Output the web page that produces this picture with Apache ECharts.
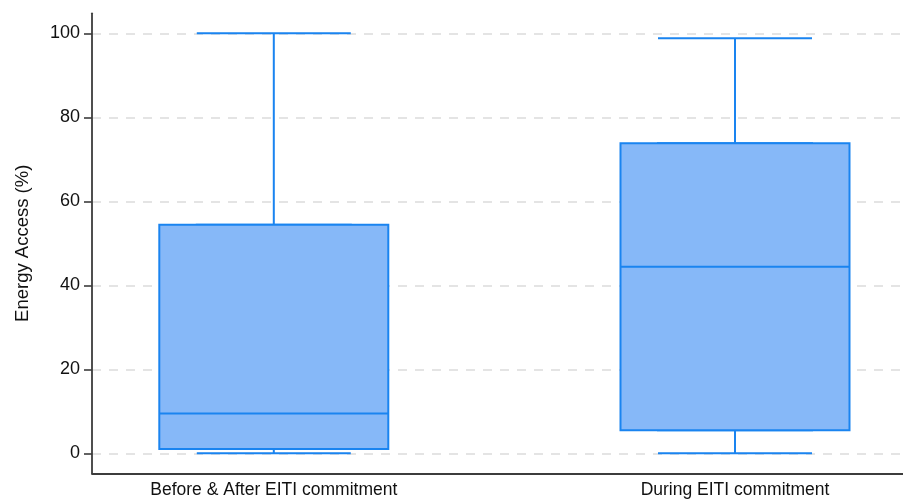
<!DOCTYPE html>
<html>
<head>
<meta charset="utf-8">
<script src="https://cdn.jsdelivr.net/npm/echarts@6/dist/echarts.min.js"></script>
<style>
html,body{margin:0;padding:0;background:#fff;}
#chart{width:903px;height:499px;}
</style>
</head>
<body>
<div id="chart"></div>
<script>
const categories = ['Before & After EITI commitment', 'During EITI commitment'];
const whiskerLow = [0, 0];
const q1 = [1.0, 5.5];
const median = [9.5, 44.4];
const q3 = [54.4, 73.8];
const whiskerHigh = [100, 98.8];
const yTickLabels = [0, 20, 40, 60, 80, 100];

const fullData = categories.map((c, i) => [whiskerLow[i], q1[i], median[i], q3[i], whiskerHigh[i]]);
const boxData = categories.map((c, i) => [q1[i], q1[i], median[i], q3[i], q3[i]]);

const FONT = 'Liberation Sans, Arial, Helvetica, sans-serif';
const BLUE = '#1a84f0';
const FILL = '#86b8f8';
const TXT = '#111111';

const chart = echarts.init(document.getElementById('chart'));
chart.setOption({
  backgroundColor: '#ffffff',
  animation: false,
  grid: [
    {left: 43.2, width: 922.4, top: 33.3, bottom: 45.7, outerBoundsMode: 'none', containLabel: false},
    {left: 92, right: 0, top: 33.3, bottom: 45.7, outerBoundsMode: 'none', containLabel: false},
    {left: 92, right: 0, top: 13.3, bottom: 25.7, outerBoundsMode: 'none', containLabel: false}
  ],
  xAxis: [
    {gridIndex: 0, type: 'category', data: categories, boundaryGap: true,
     axisLine: {show: false}, axisTick: {show: false}, splitLine: {show: false},
     axisLabel: {margin: 28, color: TXT, fontSize: 17.5, fontFamily: FONT, interval: 0}},
    {gridIndex: 1, type: 'value', show: false},
    {gridIndex: 2, type: 'value', min: 0, max: 1,
     axisLine: {show: true, lineStyle: {color: '#3c3c3c', width: 1.8}},
     axisTick: {show: false}, axisLabel: {show: false}, splitLine: {show: false}},
    {gridIndex: 0, type: 'category', data: categories, boundaryGap: true, show: false}
  ],
  yAxis: [
    {gridIndex: 0, type: 'value', min: 0, max: 100, show: false},
    {gridIndex: 1, type: 'value', min: yTickLabels[0], max: yTickLabels[yTickLabels.length - 1], interval: 20,
     name: 'Energy Access (%)', nameLocation: 'middle', nameGap: 60,
     nameTextStyle: {color: TXT, fontSize: 18.5, fontFamily: FONT},
     axisLine: {show: false},
     axisTick: {show: true, length: 8, lineStyle: {color: '#3c3c3c', width: 1.6}},
     axisLabel: {margin: 12, color: TXT, fontSize: 18, fontFamily: FONT},
     splitLine: {show: true, lineStyle: {color: '#e4e4e4', width: 2, type: [9, 8]}}},
    {gridIndex: 2, type: 'value', min: 0, max: 1,
     axisLine: {show: true, lineStyle: {color: '#3c3c3c', width: 1.8}},
     axisTick: {show: false}, axisLabel: {show: false}, splitLine: {show: false}}
  ],
  series: [
    {type: 'boxplot', xAxisIndex: 0, yAxisIndex: 0, data: fullData,
     boxWidth: [154, 154],
     itemStyle: {color: FILL, borderColor: BLUE, borderWidth: 2}},
    {type: 'boxplot', xAxisIndex: 3, yAxisIndex: 0, data: boxData,
     boxWidth: [229, 229],
     itemStyle: {color: FILL, borderColor: BLUE, borderWidth: 2}}
  ]
});
</script>
</body>
</html>
